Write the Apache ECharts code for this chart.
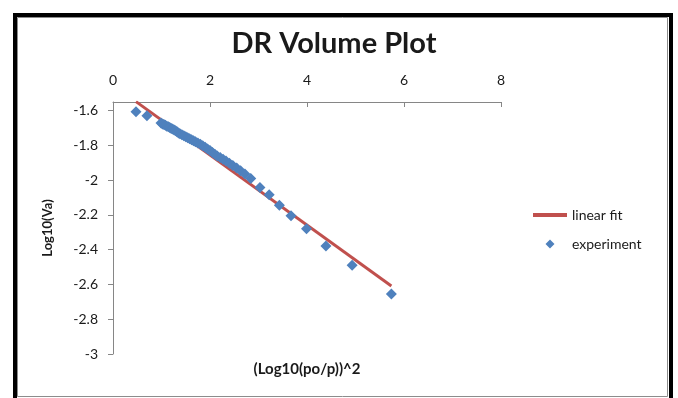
<!DOCTYPE html>
<html>
<head>
<meta charset="utf-8">
<script src="https://cdn.jsdelivr.net/npm/echarts@6/dist/echarts.min.js"></script>
<style>
  html, body { margin: 0; padding: 0; background: #fff; }
  #chart { width: 678px; height: 398px; }
</style>
</head>
<body>
<div id="chart"></div>
<script>
// experiment points
const expX = [0.474, 0.700, 0.99, 1.02, 1.05, 1.08, 1.11, 1.14, 1.17, 1.20, 1.23, 1.26, 1.29, 1.32, 1.35, 1.38,
  1.42, 1.46, 1.50, 1.54, 1.58, 1.62, 1.66, 1.70, 1.75, 1.80, 1.85, 1.90, 1.95, 2.00, 2.05, 2.10, 2.15,
  2.21, 2.27, 2.33, 2.40, 2.47, 2.55, 2.63, 2.72, 2.84, 3.03, 3.22, 3.43, 3.67, 3.99, 4.39, 4.93, 5.74]
const expY = [-1.606, -1.629, -1.671, -1.676, -1.680, -1.684, -1.689, -1.693, -1.697, -1.702, -1.706, -1.711,
  -1.716, -1.721, -1.728, -1.733, -1.739, -1.744, -1.750, -1.755, -1.761, -1.767, -1.773, -1.779, -1.786,
  -1.793, -1.802, -1.811, -1.820, -1.829, -1.840, -1.851, -1.860, -1.870, -1.880, -1.890, -1.902, -1.915,
  -1.930, -1.946, -1.964, -1.990, -2.042, -2.084, -2.144, -2.205, -2.280, -2.378, -2.490, -2.655]
// linear fit end points
const fitX = [0.474, 5.74]
const fitY = [-1.548, -2.609]

const font = 'Lato, "Liberation Sans", sans-serif'
const textColor = '#1a1a1a'
// small diamond centred in the 34x10 legend box (corner dots keep the scale 1:1)
const legendDiamond = 'path://M0,0L0,0.01M34,10L34,10.01M17,0.5L21.5,5L17,9.5L12.5,5Z'

const chart = echarts.init(document.getElementById('chart'))
chart.setOption({
  animation: false,
  backgroundColor: '#fff',
  grid: { left: 113, top: 102, width: 388, height: 252 },
  legend: {
    orient: 'vertical',
    left: 526,
    top: 202,
    itemWidth: 34,
    itemHeight: 10,
    itemGap: 13,
    textStyle: { fontFamily: font, fontSize: 14, color: textColor, lineHeight: 16 },
    data: [
      { name: 'linear fit', itemStyle: { opacity: 0 }, lineStyle: { width: 4 } },
      { name: 'experiment', icon: legendDiamond }
    ]
  },
  xAxis: {
    type: 'value',
    position: 'top',
    min: 0,
    max: 8,
    interval: 2,
    splitLine: { show: false },
    axisLine: { lineStyle: { color: '#868686', width: 1 } },
    axisTick: { inside: true, length: 5, lineStyle: { color: '#868686' } },
    axisLabel: { margin: 15, fontFamily: font, fontSize: 14, color: textColor }
  },
  yAxis: {
    type: 'value',
    min: -3,
    max: -1.55,
    interval: 0.2,
    name: 'Log10(Va)',
    nameLocation: 'middle',
    nameRotate: 90,
    nameGap: 59,
    nameTextStyle: { fontFamily: font, fontSize: 13, fontWeight: 'bold', color: textColor },
    splitLine: { show: false },
    axisLine: { show: true, lineStyle: { color: '#868686', width: 1 } },
    axisTick: { show: true, length: 5, lineStyle: { color: '#868686' } },
    axisLabel: { margin: 15, showMaxLabel: false, fontFamily: font, fontSize: 14, color: textColor }
  },
  series: [
    {
      name: 'linear fit',
      type: 'line',
      data: fitX.map((x, i) => [x, fitY[i]]),
      showSymbol: false,
      symbol: 'none',
      lineStyle: { color: '#C0504D', width: 3 },
      itemStyle: { color: '#C0504D' },
      z: 2
    },
    {
      name: 'experiment',
      type: 'scatter',
      data: expX.map((x, i) => [x, expY[i]]),
      symbol: 'diamond',
      symbolSize: 11,
      itemStyle: { color: '#4F81BD', opacity: 1 },
      z: 3
    }
  ],
  graphic: [
    { type: 'text', x: 334, y: 44, style: { text: 'DR Volume Plot', font: 'bold 29px ' + font, fill: textColor, align: 'center', verticalAlign: 'middle' } },
    { type: 'text', x: 307, y: 369, style: { text: '(Log10(po/p))^2', font: 'bold 15px ' + font, fill: textColor, align: 'center', verticalAlign: 'middle' } },
    { type: 'rect', shape: { x: 17.5, y: 17.5, width: 650, height: 379 }, style: { fill: null, stroke: '#8c8c8c', lineWidth: 1 }, silent: true },
    { type: 'rect', shape: { x: 15, y: 15, width: 656, height: 420 }, style: { fill: null, stroke: '#000', lineWidth: 4 }, silent: true }
  ]
})
</script>
</body>
</html>
